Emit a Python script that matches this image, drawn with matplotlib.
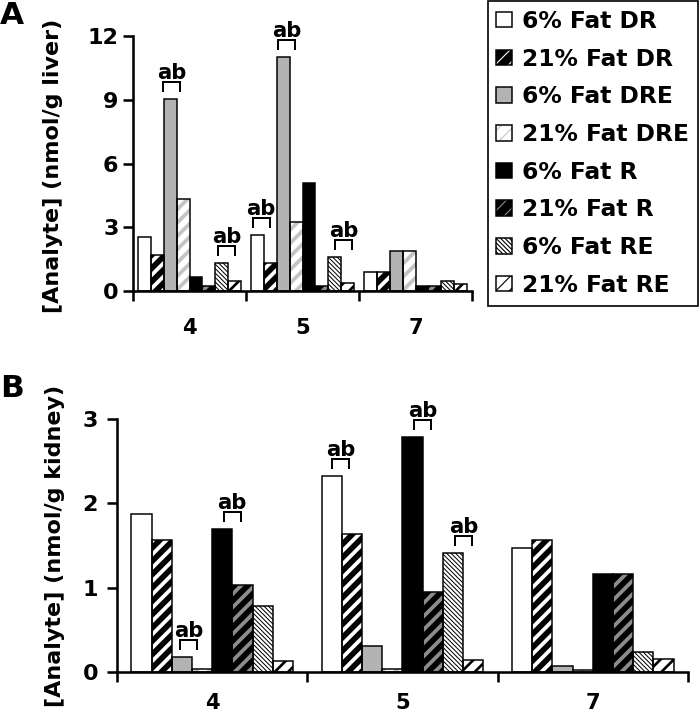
import matplotlib
matplotlib.use("Agg")
import matplotlib.pyplot as plt
from matplotlib.legend_handler import HandlerTuple
import numpy as np

# weeks
groups = ['4', '5', '7']
series = ['6% Fat DR', '21% Fat DR', '6% Fat DRE', '21% Fat DRE',
          '6% Fat R', '21% Fat R', '6% Fat RE', '21% Fat RE']

# panel A, nmol/g liver (one list per series, values for 4, 5, 7)
liver_dr6 = [2.56, 2.65, 0.88]
liver_dr21 = [1.7, 1.3, 0.9]
liver_dre6 = [9.05, 11.0, 1.9]
liver_dre21 = [4.33, 3.25, 1.9]
liver_r6 = [0.67, 5.07, 0.25]
liver_r21 = [0.25, 0.25, 0.25]
liver_re6 = [1.3, 1.6, 0.47]
liver_re21 = [0.47, 0.4, 0.33]

# panel B, nmol/g kidney
kidney_dr6 = [1.87, 2.32, 1.47]
kidney_dr21 = [1.56, 1.64, 1.56]
kidney_dre6 = [0.18, 0.31, 0.07]
kidney_dre21 = [0.03, 0.03, 0.02]
kidney_r6 = [1.69, 2.79, 1.16]
kidney_r21 = [1.03, 0.95, 1.16]
kidney_re6 = [0.78, 1.41, 0.24]
kidney_re21 = [0.13, 0.14, 0.15]

# "ab" marks: (group index, series index)
liver_marks = [(0, 2), (0, 6), (1, 0), (1, 2), (1, 6)]
kidney_marks = [(0, 2), (0, 4), (1, 0), (1, 4), (1, 6)]

liver = [liver_dr6, liver_dr21, liver_dre6, liver_dre21,
         liver_r6, liver_r21, liver_re6, liver_re21]
kidney = [kidney_dr6, kidney_dr21, kidney_dre6, kidney_dre21,
          kidney_r6, kidney_r21, kidney_re6, kidney_re21]

# fill colour, hatch, hatch colour, hatch linewidth
styles = [
    ('white', None, 'white', 1.0),
    ('black', '//', 'white', 3.4),
    ('#b3b3b3', None, '#b3b3b3', 1.0),
    ('white', '//', '#c4c4c4', 3.4),
    ('black', None, 'black', 1.0),
    ('black', '//', '#8c8c8c', 3.4),
    ('white', '\\' * 6, 'black', 0.9),
    ('white', '//', 'black', 2.4),
]

DPI = 80
fig = plt.figure(figsize=(700 / DPI, 723 / DPI), dpi=DPI)
ax_a = fig.add_axes([133 / 700, 1 - 291 / 723, 339 / 700, 255 / 723])
ax_b = fig.add_axes([117 / 700, 1 - 672 / 723, 571 / 700, 253 / 723])


def draw_panel(ax, values, width, ymax, yticks, marks, mark_dx, ypad, xpad):
    x = np.arange(len(groups))
    handles = []
    for k, vals in enumerate(values):
        face, hatch, hcol, hlw = styles[k]
        xs = x + (k - 3.5) * width
        with plt.rc_context({'hatch.linewidth': hlw}):
            fill = ax.bar(xs, vals, width, color=face, edgecolor=hcol,
                          linewidth=0, hatch=hatch, zorder=2)
        for p in fill:
            if hasattr(p, 'set_hatch_linewidth'):
                p.set_hatch_linewidth(hlw)
        edge = ax.bar(xs, vals, width, facecolor='none', edgecolor='black',
                      linewidth=1.35, zorder=3)
        handles.append((fill[0], edge[0]))

    ax.set_xlim(-0.5, len(groups) - 0.5)
    ax.set_ylim(0, ymax)
    ax.set_yticks(yticks)
    ax.set_xticks(np.arange(len(groups) + 1) - 0.5)
    ax.set_xticklabels([])
    ax.set_xticks(x, minor=True)
    ax.set_xticklabels(groups, minor=True)
    for s in ['top', 'right']:
        ax.spines[s].set_visible(False)
    for s in ['left', 'bottom']:
        ax.spines[s].set_linewidth(2.3)
        ax.spines[s].set_zorder(4)
    ax.tick_params(axis='both', which='major', direction='out', length=9,
                   width=2.3, labelsize=20)
    ax.tick_params(axis='y', pad=ypad)
    ax.tick_params(axis='x', which='minor', length=0, pad=xpad, labelsize=19)
    for lab in ax.get_yticklabels() + ax.get_xticklabels(minor=True):
        lab.set_fontweight('bold')

    # brackets with "ab"
    ppx = ax.bbox.width / len(groups)
    ppy = ax.bbox.height / ymax
    for (g, k), dx in zip(marks, mark_dx):
        xc = g + (k - 3.5) * width + dx / ppx
        y0 = values[k][g] + 8 / ppy
        y1 = y0 + 9 / ppy
        half = 8.5 / ppx
        ax.plot([xc - half, xc - half, xc + half, xc + half], [y0, y1, y1, y0],
                color='black', lw=1.8, clip_on=False, zorder=5,
                solid_joinstyle='miter')
        ax.text(xc, y1 + 3 / ppy, 'ab', ha='center', va='baseline',
                fontsize=19, fontweight='bold', zorder=5)
    return handles


handles = draw_panel(ax_a, liver, 0.113, 12, [0, 3, 6, 9, 12],
                     liver_marks, [1, 5, 3.5, 3.5, 9], 4, 24)
draw_panel(ax_b, kidney, 0.106, 3, [0, 1, 2, 3],
           kidney_marks, [7, 10, 8.5, 10, 11], 8, 19)

fig.text(53 / 700, 1 - 166 / 723, '[Analyte] (nmol/g liver)', rotation=90,
         ha='center', va='center', fontsize=20, fontweight='bold')
fig.text(55 / 700, 1 - 546 / 723, '[Analyte] (nmol/g kidney)', rotation=90,
         ha='center', va='center', fontsize=20, fontweight='bold')
fig.text(0 / 700, 1 - 1 / 723, 'A', ha='left', va='top', fontsize=28,
         fontweight='bold')
fig.text(0 / 700, 1 - 374 / 723, 'B', ha='left', va='top', fontsize=28,
         fontweight='bold')

leg = fig.legend(handles, series, loc='upper right',
                 bbox_to_anchor=(698 / 700, 1 - 1 / 723),
                 handler_map={tuple: HandlerTuple(ndivide=1, pad=0)},
                 prop={'weight': 'bold', 'size': 21}, frameon=True,
                 fancybox=False, edgecolor='black', framealpha=1,
                 handlelength=0.65, handleheight=0.65, handletextpad=0.45,
                 labelspacing=0.63, borderpad=0.38, borderaxespad=0)
leg.get_frame().set_linewidth(1.5)

fig.savefig('out.png', dpi=DPI)
